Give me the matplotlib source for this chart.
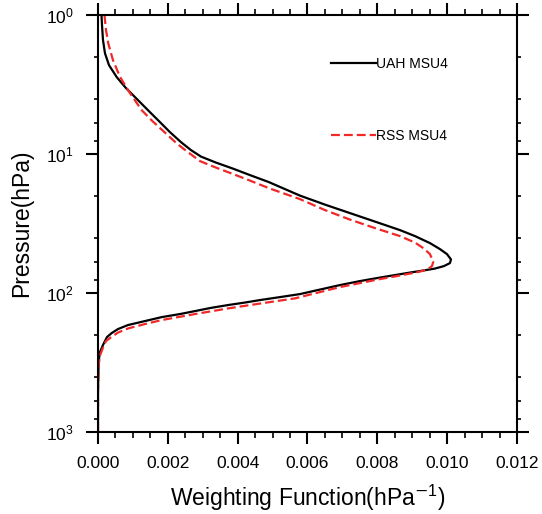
import numpy as np
import matplotlib
matplotlib.use("Agg")
import matplotlib.pyplot as plt
from matplotlib.ticker import LogLocator, MultipleLocator, NullFormatter

plt.rcParams['font.family'] = ['Liberation Sans', 'DejaVu Sans']
plt.rcParams['mathtext.fontset'] = 'custom'
plt.rcParams['mathtext.rm'] = 'Liberation Sans'
plt.rcParams['mathtext.it'] = 'Liberation Sans:italic'

# UAH MSU4 weighting function (black, solid) - pressure (hPa), weight (1/hPa)
uah_p = [1.00, 1.18, 1.51, 1.88, 2.29, 2.79, 3.35, 4.02, 4.83, 5.79, 6.95,
         8.20, 9.36, 10.42, 11.51, 12.72, 14.16, 15.91, 17.86, 19.89, 23.09,
         26.58, 30.59, 35.23, 38.90, 43.70, 48.27, 52.42, 57.24, 60.84, 63.94,
         66.64, 68.88, 71.20, 74.22, 77.36, 81.99, 87.59, 94.36, 101.7, 106.9,
         112.3, 117.0, 122.0, 128.2, 134.8, 141.6, 148.8, 159.0, 169.9, 181.6,
         194.0, 207.3, 236.6, 265.8, 303.4, 388.9, 498.6, 1000.0]
uah_w = [0.000100, 0.000115, 0.000143, 0.000200, 0.000315, 0.000536, 0.000802,
         0.001117, 0.001432, 0.001747, 0.002062, 0.002377, 0.002664, 0.002950,
         0.003380, 0.003867, 0.004353, 0.004897, 0.005356, 0.005785, 0.006501,
         0.007217, 0.007933, 0.008649, 0.009079, 0.009508, 0.009795, 0.009995,
         0.010110, 0.010081, 0.009909, 0.009652, 0.009308, 0.008936, 0.008506,
         0.008076, 0.007504, 0.006931, 0.006358, 0.005785, 0.005213, 0.004640,
         0.004210, 0.003723, 0.003208, 0.002778, 0.002348, 0.001833, 0.001346,
         0.000859, 0.000573, 0.000392, 0.000258, 0.000143, 0.000057, 0.000023,
         0.000009, 0.0, 0.0]

# RSS MSU4 weighting function (red, dashed)
rss_p = [1.00, 1.28, 1.60, 2.11, 2.78, 3.64, 4.83, 5.84, 7.00, 8.38, 9.44,
         11.23, 12.51, 13.93, 15.51, 17.71, 21.08, 25.29, 29.60, 34.07, 38.90,
         43.31, 47.46, 52.42, 59.55, 63.94, 67.20, 70.04, 72.40, 75.46, 79.30,
         84.75, 90.55, 98.35, 109.2, 119.0, 128.9, 141.6, 156.4, 167.1, 179.5,
         192.4, 206.3, 221.5, 243.4, 274.8, 313.6, 402.0, 515.4, 1000.0]
rss_w = [0.000186, 0.000229, 0.000295, 0.000430, 0.000630, 0.000916, 0.001252,
         0.001575, 0.001919, 0.002254, 0.002520, 0.002921, 0.003380, 0.003875,
         0.004353, 0.004926, 0.005785, 0.006501, 0.007217, 0.007933, 0.008649,
         0.009079, 0.009317, 0.009508, 0.009603, 0.009566, 0.009451, 0.009222,
         0.008936, 0.008563, 0.008076, 0.007504, 0.006931, 0.006358, 0.005642,
         0.004640, 0.003732, 0.002778, 0.001824, 0.001346, 0.000868, 0.000573,
         0.000392, 0.000229, 0.000152, 0.000072, 0.000029, 0.000011, 0.0, 0.0]

fig = plt.figure(figsize=(5.42, 5.14), dpi=100)
ax = fig.add_axes([0.1808, 0.1595, 0.773, 0.811])

ax.plot(uah_w, uah_p, color='black', lw=1.6, label='UAH MSU4')
ax.plot(rss_w, rss_p, color='#f02828', lw=1.6, dashes=(4, 1.8), label='RSS MSU4')

ax.set_yscale('log')
ax.set_ylim(1000, 1)
ax.set_xlim(0, 0.012)

ax.xaxis.set_major_locator(MultipleLocator(0.002))
ax.xaxis.set_minor_locator(MultipleLocator(0.0005))
ax.xaxis.set_major_formatter(matplotlib.ticker.FormatStrFormatter('%.3f'))
ax.yaxis.set_major_locator(LogLocator(base=10, numticks=10))
ax.yaxis.set_minor_locator(LogLocator(base=10, subs=(2, 4, 6, 8), numticks=10))
ax.yaxis.set_minor_formatter(NullFormatter())

for s in ax.spines.values():
    s.set_linewidth(1.5)

ax.tick_params(which='both', direction='out', top=True, right=True,
               labelsize=12.5, width=1.5)
ax.tick_params(which='major', length=8.6, pad=9)
ax.tick_params(axis='x', which='minor', length=4.3, width=1.2)
ax.tick_params(axis='y', which='minor', length=3.0, width=1.2)

ax.set_xlabel('Weighting Function(hPa$^{\\mathsf{-}1}$)', fontsize=16.5, labelpad=8)
ax.set_ylabel('Pressure(hPa)', fontsize=16.5, labelpad=9)

ax.legend(loc='upper left', bbox_to_anchor=(0.555, 0.9), frameon=False,
          fontsize=10, handlelength=3.25, handletextpad=0.05,
          labelspacing=4.2, borderpad=0, borderaxespad=0)

fig.savefig('out.png', dpi=100)
